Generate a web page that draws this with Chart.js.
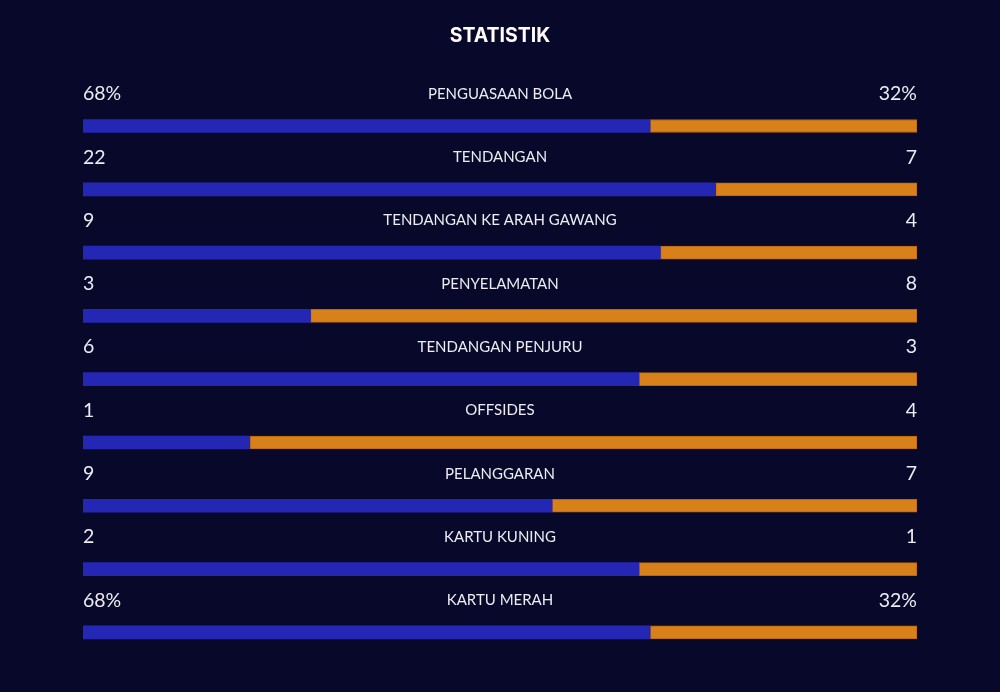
<!DOCTYPE html>
<html>
<head>
<meta charset="utf-8">
<script src="https://cdn.jsdelivr.net/npm/chart.js@4/dist/chart.umd.min.js"></script>
<style>
  html, body { margin: 0; padding: 0; background: #08082a; }
  #wrap { width: 1000px; height: 692px; }
</style>
</head>
<body>
<div id="wrap"><canvas id="statChart" width="1000" height="692"></canvas></div>
<script>
/* match stats */
const categories = ['PENGUASAAN BOLA', 'TENDANGAN', 'TENDANGAN KE ARAH GAWANG', 'PENYELAMATAN',
  'TENDANGAN PENJURU', 'OFFSIDES', 'PELANGGARAN', 'KARTU KUNING', 'KARTU MERAH'];
const homeValues = [68, 22, 9, 3, 6, 1, 9, 2, 68];
const awayValues = [32, 7, 4, 8, 3, 4, 7, 1, 32];
const homeTicks = ['68%', '22', '9', '3', '6', '1', '9', '2', '68%'];
const awayTicks = ['32%', '7', '4', '8', '3', '4', '7', '1', '32%'];

// share of each row, so every bar fills 100%
const homeShare = homeValues.map((v, i) => v / (v + awayValues[i]) * 100);
const awayShare = awayValues.map((v, i) => v / (homeValues[i] + v) * 100);

/* text above every bar */
const rowText = {
  id: 'rowText',
  afterDatasetsDraw(chart) {
    const ctx = chart.ctx;
    const area = chart.chartArea;
    const yScale = chart.scales.y;
    ctx.save();
    ctx.fillStyle = '#ececf2';
    ctx.textBaseline = 'middle';
    categories.forEach(function(cat, i) {
      const y = yScale.getPixelForValue(i) - 32;
      ctx.font = '15px Lato';
      ctx.textAlign = 'center';
      ctx.fillText(cat, (area.left + area.right) / 2, y);
      ctx.font = '19.5px Lato';
      ctx.textAlign = 'left';
      ctx.fillText(homeTicks[i], area.left, y);
      ctx.textAlign = 'right';
      ctx.fillText(awayTicks[i], area.right, y);
    });
    ctx.restore();
  }
};

const ctx = document.getElementById('statChart').getContext('2d');

// eslint-disable-next-line no-undef
const chart = new Chart(ctx, {
  type: 'bar',
  data: {
    labels: categories,
    datasets: [{
      label: 'Home',
      data: homeShare,
      backgroundColor: '#2426b4',
      borderWidth: 0,
      barThickness: 13,
    },
    {
      label: 'Away',
      data: awayShare,
      backgroundColor: '#d8801a',
      borderColor: '#b5680f',
      borderWidth: 1,
      borderSkipped: false,
      barThickness: 13,
    }]
  },
  options: {
    indexAxis: 'y',
    responsive: false,
    animation: false,
    layout: { padding: { left: 83, right: 83, top: 0, bottom: 28 } },
    scales: {
      x: { stacked: true, min: 0, max: 100, display: false },
      y: { stacked: true, display: false }
    },
    plugins: {
      legend: { display: false },
      tooltip: { enabled: false },
      title: {
        display: true,
        text: 'STATISTIK',
        color: '#ffffff',
        font: { family: 'Inter', size: 19.5, weight: 'bold', lineHeight: 1.2 },
        padding: { top: 24, bottom: 47 }
      }
    }
  },
  plugins: [rowText]
});
</script>
</body>
</html>
